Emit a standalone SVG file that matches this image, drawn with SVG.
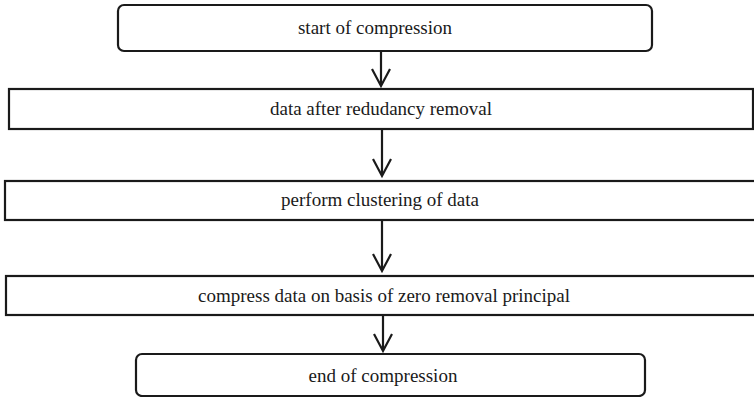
<svg xmlns="http://www.w3.org/2000/svg" width="754" height="397" viewBox="0 0 754 397">
<defs>
<style>
.box{fill:#fff;stroke:#1a1a1a;stroke-width:2.2}
.lbl{font-family:"Liberation Serif","Times New Roman","DejaVu Serif",serif;font-size:19px;fill:#1a1a1a;text-anchor:middle}
.con{fill:none;stroke:#1a1a1a;stroke-width:2.2}
</style>
</defs>
<rect width="754" height="397" fill="#fff"/>
<g id="connectors">
<path class="con" d="M381 51V86M372 69L381 86L390 69"/>
<path class="con" d="M382 129V176M373 159L382 176L391 159"/>
<path class="con" d="M382 220V271M373 254L382 271L391 254"/>
<path class="con" d="M383 315V351M374 334L383 351L392 334"/>
</g>
<g id="n1"><rect class="box" x="118" y="5" width="534" height="46" rx="6"/><text class="lbl" x="375" y="34">start of compression</text></g>
<g id="n2"><rect class="box" x="9" y="89" width="744" height="40"/><text class="lbl" x="381" y="115">data after redudancy removal</text></g>
<g id="n3"><rect class="box" x="5" y="181" width="760" height="39"/><text class="lbl" x="380" y="206">perform clustering of data</text></g>
<g id="n4"><rect class="box" x="6" y="276" width="760" height="39"/><text class="lbl" x="384" y="302">compress data on basis of zero removal principal</text></g>
<g id="n5"><rect class="box" x="136" y="354" width="509" height="42" rx="6"/><text class="lbl" x="383" y="382">end of compression</text></g>
</svg>
